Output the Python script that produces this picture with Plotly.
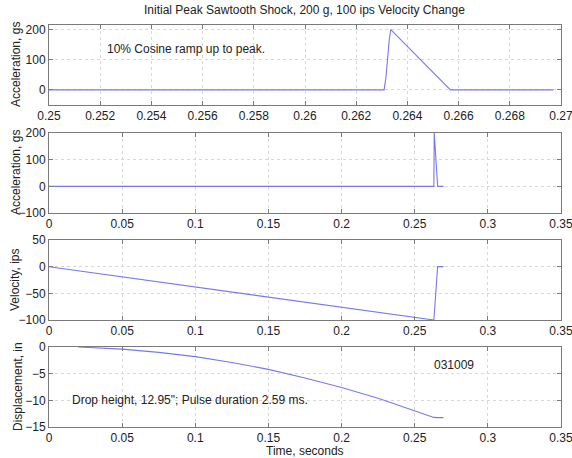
import plotly.graph_objects as go

# Zoomed view of the shock pulse (panel 1)
zoom_t = [0.2500, 0.26309, 0.26316, 0.26322, 0.26329, 0.26335, 0.26568, 0.2697]
zoom_acc = [0, 0, 40, 100, 165, 200, 0, 0]

# Full-record acceleration (panel 2)
acc_t = [0.0, 0.26309, 0.26335, 0.26568, 0.2697]
acc_g = [0, 0, 200, 0, 0]

# Velocity (panel 3)
vel_t = [0.0, 0.26309, 0.26568, 0.2697]
vel_ips = [0, -100, 0, 0]

# Displacement (panel 4)
disp_t = [0.02, 0.05, 0.075, 0.10, 0.125, 0.15, 0.175, 0.20, 0.225, 0.25, 0.2631, 0.2657, 0.2697]
disp_in = [0, -0.4, -1.0, -1.8, -2.9, -4.2, -5.8, -7.6, -9.6, -11.9, -13.2, -13.25, -13.25]

title_text = "Initial Peak Sawtooth Shock, 200 g, 100 ips Velocity Change"
y_titles = ["Acceleration, gs", "Acceleration, gs", "Velocity, ips", "Displacement, in"]
x_title = "Time, seconds"

W, H = 572, 458
FONT = "Liberation Sans, Arial, sans-serif"
LINE = "#7878ee"
BOX = "#7a7a7a"
GRID = "#d8d8d8"
TXT = "#222222"

# panel boxes in pixels (top, bottom)
boxes = [(25, 105), (133, 213), (240, 320), (347, 427)]
x_left, x_right = 49, 561


def ydom(top, bot):
    return [1 - bot / H, 1 - top / H]


fig = go.Figure()
series = [(zoom_t, zoom_acc), (acc_t, acc_g), (vel_t, vel_ips), (disp_t, disp_in)]
for i, (t, v) in enumerate(series):
    sfx = "" if i == 0 else str(i + 1)
    fig.add_trace(go.Scatter(
        x=t, y=v, mode="lines",
        line=dict(color=LINE, width=1.1),
        xaxis="x" + sfx, yaxis="y" + sfx,
        showlegend=False, hoverinfo="skip", cliponaxis=True,
    ))

axis_common = dict(
    showline=True, linecolor=BOX, linewidth=1, mirror="ticks",
    ticks="inside", ticklen=4, tickcolor=BOX,
    showgrid=True, gridcolor=GRID, griddash="dot", gridwidth=1,
    zeroline=False, automargin=False, ticklabeloverflow="allow",
    tickfont=dict(family=FONT, size=12, color=TXT),
)

xranges = [[0.25, 0.27], [0, 0.35], [0, 0.35], [0, 0.35]]
xticks = [
    [0.25, 0.252, 0.254, 0.256, 0.258, 0.26, 0.262, 0.264, 0.266, 0.268, 0.27],
    [0, 0.05, 0.1, 0.15, 0.2, 0.25, 0.3, 0.35],
    [0, 0.05, 0.1, 0.15, 0.2, 0.25, 0.3, 0.35],
    [0, 0.05, 0.1, 0.15, 0.2, 0.25, 0.3, 0.35],
]
yranges = [[-50, 215], [-100, 200], [-100, 50], [-15, 0]]
yticks = [[0, 100, 200], [-100, 0, 100, 200], [-100, -50, 0, 50], [-15, -10, -5, 0]]

layout = dict(
    width=W, height=H,
    margin=dict(l=0, r=0, t=0, b=0),
    paper_bgcolor="white", plot_bgcolor="white",
    font=dict(family=FONT, size=12, color=TXT),
)
for i in range(4):
    sfx = "" if i == 0 else str(i + 1)
    top, bot = boxes[i]
    layout["xaxis" + sfx] = dict(
        axis_common,
        domain=[x_left / W, x_right / W],
        range=xranges[i],
        tickvals=xticks[i],
        ticktext=[("%g" % v) for v in xticks[i]],
        anchor="y" + sfx,
    )
    layout["yaxis" + sfx] = dict(
        axis_common,
        domain=ydom(top, bot),
        range=yranges[i],
        tickvals=yticks[i],
        anchor="x" + sfx,
    )

fig.update_layout(**layout)

txt_font = dict(family=FONT, size=12, color=TXT)
annotations = [
    dict(text=title_text, x=304 / W, y=1 - 10 / H, xref="paper", yref="paper",
         xanchor="center", yanchor="middle", showarrow=False, font=txt_font),
    dict(text=x_title, x=305 / W, y=1 - 451 / H, xref="paper", yref="paper",
         xanchor="center", yanchor="middle", showarrow=False, font=txt_font),
    dict(text="10% Cosine ramp up to peak.", x=0.2522, y=135, xref="x", yref="y",
         xanchor="left", yanchor="middle", showarrow=False, font=txt_font),
    dict(text="Drop height, 12.95\"; Pulse duration 2.59 ms.", x=0.0145, y=-10,
         xref="x4", yref="y4", xanchor="left", yanchor="middle", showarrow=False,
         font=txt_font),
    dict(text="031009", x=0.2618, y=-3.3, xref="x4", yref="y4", xanchor="left",
         yanchor="middle", showarrow=False, font=txt_font),
]
label_x = [16, 16, 15, 18]
for i in range(4):
    top, bot = boxes[i]
    annotations.append(dict(
        text=y_titles[i], x=label_x[i] / W, y=1 - (top + bot) / 2 / H,
        xref="paper", yref="paper", textangle=-90, showarrow=False,
        xanchor="center", yanchor="middle", font=txt_font,
    ))
fig.update_layout(annotations=annotations)

fig.write_html("out.html")
